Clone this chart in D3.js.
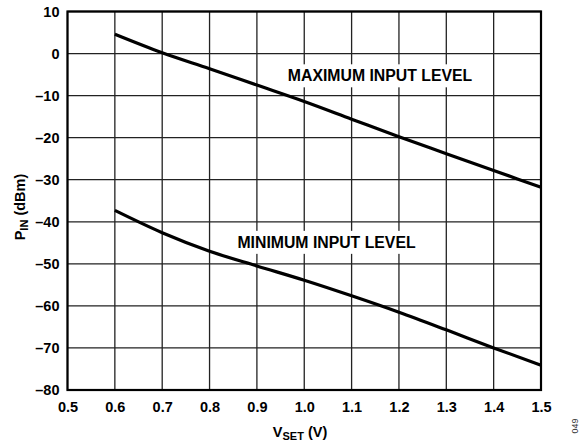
<!DOCTYPE html>
<html>
<head>
<meta charset="utf-8">
<script src="https://cdn.jsdelivr.net/npm/d3@7"></script>
<style>
  html, body { margin: 0; padding: 0; background: #fff; }
  svg { display: block; font-family: "Liberation Sans", Arial, Helvetica, sans-serif; }
</style>
</head>
<body>
<svg id="chart" width="585" height="446"></svg>
<script>
// ---- data ----
const vset = [0.6, 0.7, 0.8, 0.9, 1.0, 1.1, 1.2, 1.3, 1.4, 1.5];
const maxInput = [4.6, 0.2, -3.6, -7.5, -11.4, -15.6, -19.8, -23.8, -27.8, -31.8];
const minInput = [-37.3, -42.6, -47.0, -50.5, -53.9, -57.6, -61.5, -65.7, -70.0, -74.1];
const xTicks = [0.5, 0.6, 0.7, 0.8, 0.9, 1.0, 1.1, 1.2, 1.3, 1.4, 1.5];
const yTicks = [10, 0, -10, -20, -30, -40, -50, -60, -70, -80];
const labels = [
  { text: "MAXIMUM INPUT LEVEL", x: 1.16, y: -6.6 },
  { text: "MINIMUM INPUT LEVEL", x: 1.047, y: -46.2 }
];

// ---- layout ----
const svg = d3.select("#chart");
const L = 67.5, R = 541, T = 11.5, B = 390;
const x = d3.scaleLinear().domain([0.5, 1.5]).range([L, R]);
const y = d3.scaleLinear().domain([-80, 10]).range([B, T]);

// grid
const g = svg.append("g");
g.selectAll(".vg").data(xTicks).enter().append("line")
  .attr("x1", d => x(d)).attr("x2", d => x(d))
  .attr("y1", T).attr("y2", B)
  .attr("stroke", "#222").attr("stroke-width", 1.3);
g.selectAll(".hg").data(yTicks).enter().append("line")
  .attr("x1", L).attr("x2", R)
  .attr("y1", d => y(d)).attr("y2", d => y(d))
  .attr("stroke", "#222").attr("stroke-width", 1.3);

// axes labels via d3 axes
const xAxis = d3.axisBottom(x).tickValues(xTicks).tickFormat(d3.format(".1f")).tickSize(0).tickPadding(12);
const yAxis = d3.axisLeft(y).tickValues(yTicks).tickFormat(d => d < 0 ? "\u2013" + Math.abs(d) : d).tickSize(0).tickPadding(8);
const xa = svg.append("g").attr("transform", `translate(0,${B})`).call(xAxis);
const ya = svg.append("g").attr("transform", `translate(${L},0)`).call(yAxis);
[xa, ya].forEach(a => {
  a.select(".domain").remove();
  a.selectAll("text").attr("fill", "#000").style("font-size", "14.5px").style("font-weight", "bold")
    .style("font-family", '"Liberation Sans", Arial, sans-serif');
});

// labels with white background
const lg = svg.append("g");
labels.forEach(lb => {
  const t = lg.append("text")
    .attr("x", x(lb.x)).attr("y", y(lb.y))
    .attr("text-anchor", "middle")
    .style("font-size", "15.8px").style("font-weight", "bold")
    .text(lb.text);
  const bb = t.node().getBBox();
  lg.insert("rect", () => t.node())
    .attr("x", bb.x - 3).attr("y", bb.y - 3)
    .attr("width", bb.width + 6).attr("height", bb.height + 6)
    .attr("fill", "#fff");
});

// frame
svg.append("rect").attr("x", L).attr("y", T).attr("width", R - L).attr("height", B - T)
  .attr("fill", "none").attr("stroke", "#000").attr("stroke-width", 2.2);

// curves
const line = d3.line().x((d, i) => x(vset[i])).y(d => y(d)).curve(d3.curveMonotoneX);
[maxInput, minInput].forEach(s => {
  svg.append("path").datum(s).attr("d", line)
    .attr("fill", "none").attr("stroke", "#000").attr("stroke-width", 3.2);
});

// axis titles
const xt = svg.append("text").attr("x", 300).attr("y", 437).attr("text-anchor", "middle")
  .style("font-size", "14.5px").style("font-weight", "bold");
xt.append("tspan").text("V");
xt.append("tspan").attr("dy", 3).style("font-size", "11px").text("SET");
xt.append("tspan").attr("dy", -3).text(" (V)");

const yt = svg.append("text").attr("transform", "translate(25,207) rotate(-90)").attr("text-anchor", "middle")
  .style("font-size", "14.5px").style("font-weight", "bold");
yt.append("tspan").text("P");
yt.append("tspan").attr("dy", 3).style("font-size", "11px").text("IN");
yt.append("tspan").attr("dy", -3).text(" (dBm)");

// figure code
svg.append("text").attr("transform", "translate(578,426) rotate(-90)").attr("text-anchor", "middle")
  .style("font-size", "9px").attr("fill", "#333").text("049");
</script>
</body>
</html>
